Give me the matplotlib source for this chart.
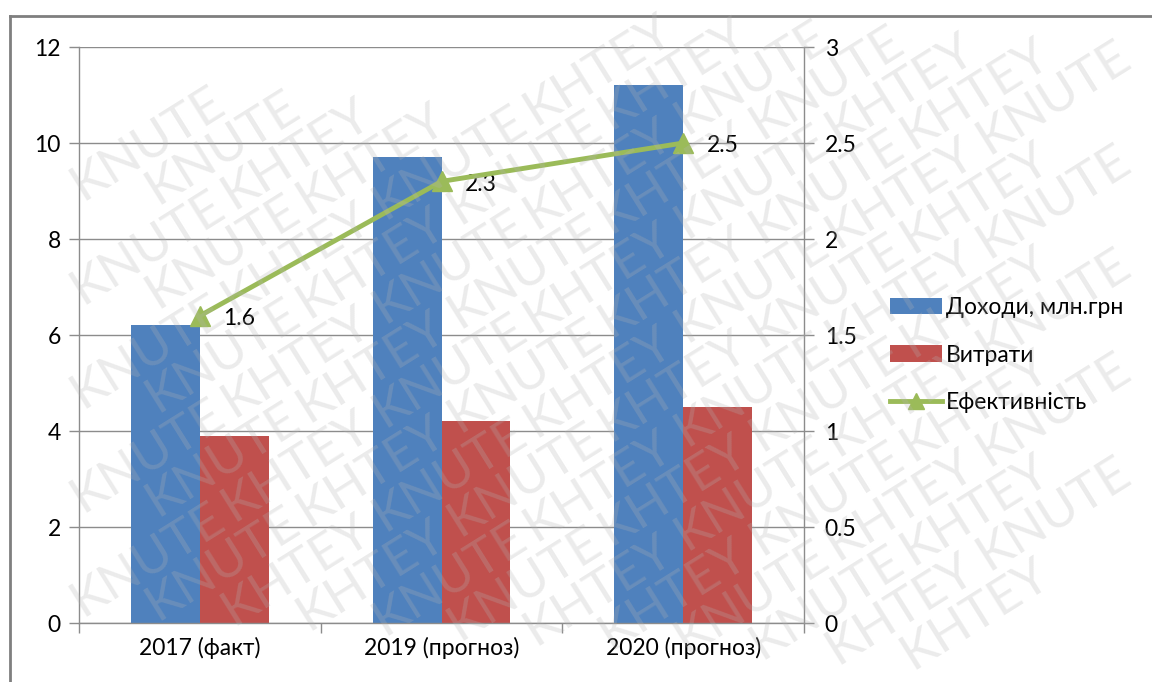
import matplotlib
matplotlib.use("Agg")
import matplotlib.pyplot as plt
from matplotlib.lines import Line2D
from matplotlib.patches import Patch
import numpy as np

categories = ["2017 (факт)", "2019 (прогноз)", "2020 (прогноз)"]
income = [6.2, 9.7, 11.2]
expenses = [3.9, 4.2, 4.5]
efficiency = [1.6, 2.3, 2.5]
efficiency_labels = ["1.6", "2.3", "2.5"]
left_ticks = [0, 2, 4, 6, 8, 10, 12]
right_ticks = [0, 0.5, 1, 1.5, 2, 2.5, 3]
right_tick_labels = ["0", "0.5", "1", "1.5", "2", "2.5", "3"]
legend_labels = ["Доходи, млн.грн", "Витрати", "Ефективність"]
watermark_words = ["KNUTE", "KHTEY"]

BLUE = "#4F81BD"
RED = "#C0504D"
GREEN = "#9BBB59"
GRID = "#8C8C8C"
FS = 16.5

plt.rcParams["font.family"] = ["Lato", "DejaVu Sans"]

W, H = 1152, 682
fig = plt.figure(figsize=(W / 100, H / 100), dpi=100)
fig.patch.set_facecolor("white")

ax = fig.add_axes([79 / W, 1 - 623 / H, (804 - 79) / W, (623 - 47) / H])
x = np.arange(len(categories))
bw = 0.285
ax.bar(x - bw / 2, income, width=bw, color=BLUE, zorder=2)
ax.bar(x + bw / 2, expenses, width=bw, color=RED, zorder=2)
ax.set_xlim(-0.5, len(categories) - 0.5)
ax.set_ylim(0, 12)
ax.set_yticks(left_ticks)
ax.yaxis.grid(True, color=GRID, linewidth=1.0, zorder=0)
ax.set_axisbelow(True)
ax.set_xticks(x)
ax.set_xticklabels(categories, fontsize=FS)
ax.tick_params(axis="x", which="major", length=0, pad=10)
ax.set_xticks(np.arange(-0.5, len(categories), 1.0), minor=True)
ax.tick_params(axis="x", which="minor", length=7, color=GRID, width=1)
ax.tick_params(axis="y", length=7, color=GRID, width=1, labelsize=FS, pad=6)
for s in ["top", "right"]:
    ax.spines[s].set_visible(False)
for s in ["left", "bottom"]:
    ax.spines[s].set_color(GRID)
    ax.spines[s].set_linewidth(1.0)

ax2 = ax.twinx()
ax2.plot(x, efficiency, color=GREEN, linewidth=3.5, marker="^", markersize=14,
         markerfacecolor=GREEN, markeredgecolor=GREEN, zorder=5)
ax2.set_ylim(0, 3)
ax2.set_yticks(right_ticks)
ax2.set_yticklabels(right_tick_labels)
ax2.tick_params(axis="y", length=7, color=GRID, width=1, labelsize=FS, pad=8)
for s in ["top", "left", "bottom"]:
    ax2.spines[s].set_visible(False)
ax2.spines["right"].set_color(GRID)
ax2.spines["right"].set_linewidth(1.0)
for xi, yi, lab in zip(x, efficiency, efficiency_labels):
    ax2.annotate(lab, (xi, yi), xytext=(17, -2), textcoords="offset points",
                 fontsize=FS, va="center", ha="left", color="#000000")

handles = [Patch(facecolor=BLUE), Patch(facecolor=RED),
           Line2D([0], [0], color=GREEN, linewidth=3.5, marker="^", markersize=11)]
fig.legend(handles, legend_labels, loc="center left", bbox_to_anchor=(869 / W, 1 - 355 / H),
           frameon=False, fontsize=FS, handlelength=2.3, handleheight=0.7,
           labelspacing=1.15, handletextpad=0.15)

# figure border
fig.add_artist(Line2D([10 / W, 1.0], [1 - 16 / H, 1 - 16 / H], color="#7F7F7F", linewidth=2))
fig.add_artist(Line2D([10 / W, 10 / W], [1 - 16 / H, 0.0], color="#7F7F7F", linewidth=2))

# watermark: individual rotated words
deg = 32
ang = np.deg2rad(deg)
d = np.array([np.cos(ang), np.sin(ang)])
pitch = 178.0
vstep = 52.0
wm = []
for j in range(-2, 32):
    p0 = np.array([0.0, 690 - j * vstep])
    shift = (j % 2) * pitch * 0.5
    for k in range(0, 11):
        p = p0 + (k * pitch + shift - 170) * d
        word = watermark_words[(k + j) % 2]
        t = fig.text(p[0] / W, p[1] / H, word, rotation=deg, rotation_mode="anchor",
                     fontsize=37, color="#B4B4B4", alpha=0.26,
                     ha="left", va="baseline", zorder=20)
        wm.append(t)

fig.canvas.draw()
r = fig.canvas.get_renderer()
for t in wm:
    bb = t.get_window_extent(r)
    if bb.x0 < 0 or bb.y0 < 0 or bb.x1 > W or bb.y1 > H:
        t.remove()

fig.savefig("out.png", dpi=100)
